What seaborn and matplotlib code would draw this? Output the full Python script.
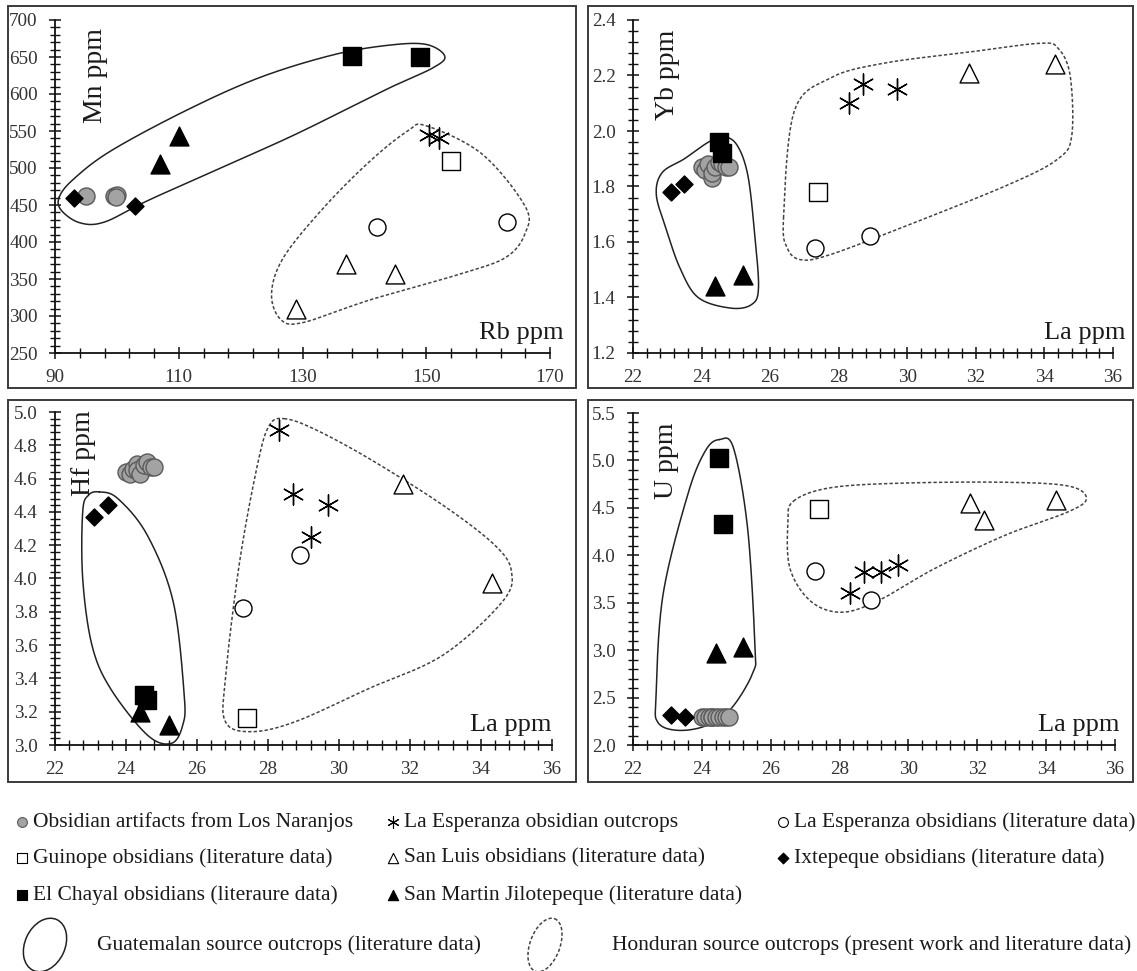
import numpy as np
import pandas as pd
import matplotlib
matplotlib.use("Agg")
import matplotlib.pyplot as plt
import seaborn as sns
from matplotlib.patches import Rectangle, Ellipse
from matplotlib.ticker import MultipleLocator, FuncFormatter

# ---------------- data ----------------
nan = np.nan
# Obsidian artifacts from Los Naranjos
NAR_RB = [95.0, 99.6, 100.0, 99.8]
NAR_MN = [462, 462, 463, 461]
NAR_LA = [24.0, 24.1, 24.2, 24.3, 24.3, 24.4, 24.5, 24.6, 24.7, 24.8]
NAR_YB = [1.87, 1.86, 1.88, 1.83, 1.85, 1.87, 1.89, 1.88, 1.87, 1.87]
NAR_HF = [4.64, 4.63, 4.66, 4.69, 4.65, 4.63, 4.68, 4.70, 4.67, 4.67]
NAR_U = [2.29, 2.29, 2.29, 2.29, 2.29, 2.29, 2.29, 2.29, 2.29, 2.29]
# La Esperanza obsidian outcrops
ESP_RB = [150.5, 152.0]
ESP_MN = [545, 540]
ESP_LA = [28.3, 28.7, 29.2, 29.7]
ESP_YB = [2.10, 2.17, nan, 2.15]
ESP_HF = [4.89, 4.51, 4.25, 4.44]
ESP_U = [3.60, 3.82, 3.82, 3.90]
# La Esperanza obsidians (literature)
LEL_RB = [142.0, 163.0]
LEL_MN = [420, 427]
LEL_LA = [27.3, 28.9]
LEL_YB = [1.58, 1.62]
LEL_HF = [3.82, 4.14]
LEL_U = [3.83, 3.53]
# Guinope obsidians
GUI_RB = [154.0]
GUI_MN = [510]
GUI_LA = [27.4]
GUI_YB = [1.78]
GUI_HF = [3.16]
GUI_U = [4.49]
# San Luis obsidians
SL_RB = [129.0, 137.0, 145.0]
SL_MN = [310, 370, 357]
SL_LA = [31.8, 32.2, 34.3]
SL_YB = [2.21, nan, 2.24]
SL_HF = [4.57, nan, 3.97]
SL_U = [4.55, 4.37, 4.58]
# Ixtepeque obsidians
IXT_RB = [93.0, 103.0]
IXT_MN = [459, 449]
IXT_LA = [23.1, 23.5]
IXT_YB = [1.78, 1.81]
IXT_HF = [4.37, 4.44]
IXT_U = [2.32, 2.30]
# El Chayal obsidians
CHA_RB = [138.0, 149.0]
CHA_MN = [652, 650]
CHA_LA = [24.5, 24.6]
CHA_YB = [1.96, 1.92]
CHA_HF = [3.30, 3.27]
CHA_U = [5.03, 4.33]
# San Martin Jilotepeque
SMJ_RB = [107.0, 110.0]
SMJ_MN = [505, 543]
SMJ_LA = [24.4, 25.2]
SMJ_YB = [1.44, 1.48]
SMJ_HF = [3.20, 3.12]
SMJ_U = [2.97, 3.03]

LEGEND_LABELS = [
    "Obsidian artifacts from Los Naranjos",
    "La Esperanza obsidian outcrops",
    "La Esperanza obsidians (literature data)",
    "Guinope obsidians (literature data)",
    "San Luis obsidians (literature data)",
    "Ixtepeque obsidians (literature data)",
    "El Chayal obsidians (literaure data)",
    "San Martin Jilotepeque (literature data)",
]
ENV_LABELS = ["Guatemalan source outcrops (literature data)",
              "Honduran source outcrops (present work and literature data)"]

# source-field outlines (control points of the hand-drawn envelopes)
ENV1_SOLID_X = [90.7, 93, 99, 111, 123, 135, 144, 150, 153, 151, 144, 129, 117, 105, 98, 94, 91]
ENV1_SOLID_Y = [461, 485, 523, 577, 622, 653, 666, 667, 651, 635, 608, 546, 501, 456, 427, 426, 443]
ENV1_DASH_X = [150, 159, 166, 166, 163, 156, 141, 130, 126.4, 125, 127, 133.6, 141, 147]
ENV1_DASH_Y = [557, 519, 448, 412, 380, 358, 322, 291, 296, 331, 380, 448, 510, 550]
ENV2_SOLID_X = [24.62, 25.03, 25.35, 25.55, 25.66, 25.45, 24.83, 23.9, 23.37, 22.96, 22.68, 22.85, 23.5, 24.2]
ENV2_SOLID_Y = [1.98, 1.95, 1.84, 1.626, 1.434, 1.374, 1.362, 1.40, 1.506, 1.65, 1.77, 1.85, 1.90, 1.96]
ENV2_DASH_X = [26.39, 26.7, 27.74, 29.3, 31.9, 33.87, 34.4, 34.75, 34.8, 34.4, 32.94, 29.8, 27.74, 26.9, 26.5]
ENV2_DASH_Y = [1.686, 2.07, 2.19, 2.244, 2.286, 2.316, 2.298, 2.20, 1.986, 1.90, 1.806, 1.65, 1.554, 1.536, 1.578]
ENV3_SOLID_X = [23.25, 23.77, 24.6, 25.33, 25.64, 25.6, 25.28, 24.6, 23.56, 23.04, 22.78, 22.78, 22.94]
ENV3_SOLID_Y = [4.52, 4.48, 4.26, 3.86, 3.30, 3.12, 3.01, 3.06, 3.34, 3.60, 4.0, 4.40, 4.50]
ENV3_DASH_X = [28.45, 29.28, 30.85, 32.93, 34.39, 34.86, 34.6, 32.93, 30.85, 28.77, 27.52, 26.8, 26.8, 27.2, 27.72, 28.04]
ENV3_DASH_Y = [4.96, 4.90, 4.72, 4.44, 4.20, 4.04, 3.86, 3.54, 3.34, 3.14, 3.08, 3.14, 3.40, 4.10, 4.70, 4.92]
ENV4_SOLID_X = [24.51, 24.92, 25.33, 25.54, 25.48, 24.82, 24.1, 23.28, 22.72, 22.67, 22.87, 23.59, 24.1]
ENV4_SOLID_Y = [5.22, 5.13, 4.28, 3.05, 2.76, 2.37, 2.20, 2.155, 2.24, 2.52, 3.58, 4.64, 5.10]
ENV4_DASH_X = [26.66, 27.7, 29.74, 32.8, 34.65, 35.17, 34.65, 32.8, 30.76, 29.22, 28.1, 27.18, 26.56, 26.5]
ENV4_DASH_Y = [4.57, 4.71, 4.76, 4.77, 4.73, 4.60, 4.46, 4.21, 3.86, 3.54, 3.40, 3.51, 3.86, 4.35]

# ---------------- styling ----------------
sns.set_theme(style="white")
plt.rcParams["font.family"] = ["Liberation Serif", "DejaVu Serif"]

W, H = 1137, 971
fig = plt.figure(figsize=(W / 100, H / 100), dpi=100)
fig.patch.set_facecolor("white")

# background layer in pixel coordinates (panel frames + legend)
lax = fig.add_axes([0, 0, 1, 1], zorder=-5)
lax.set_xlim(0, W)
lax.set_ylim(H, 0)
lax.axis("off")

STYLES = {
    "NAR": dict(marker="o", color="#a3a3a3", edgecolor="#5a5a5a", s=150, linewidth=1.0),
    "ESP": dict(marker=(6, 2, 0), color="black", s=230, linewidth=1.0),
    "LEL": dict(marker="o", color="white", edgecolor="black", s=150, linewidth=1.0),
    "GUI": dict(marker="s", color="white", edgecolor="black", s=155, linewidth=1.0),
    "SL": dict(marker="^", color="white", edgecolor="black", s=185, linewidth=1.0),
    "IXT": dict(marker="D", color="black", edgecolor="black", s=75, linewidth=1.0),
    "CHA": dict(marker="s", color="black", edgecolor="black", s=155, linewidth=1.0),
    "SMJ": dict(marker="^", color="black", edgecolor="black", s=185, linewidth=1.0),
}
ORDER = ["NAR", "IXT", "SMJ", "CHA", "ESP", "GUI", "LEL", "SL"]


def closed_spline(xs, ys, n=40):
    pts = np.column_stack([xs, ys]).astype(float)
    N = len(pts)
    out = []
    t = np.linspace(0, 1, n, endpoint=False)[:, None]
    for i in range(N):
        p0, p1, p2, p3 = pts[i - 1], pts[i], pts[(i + 1) % N], pts[(i + 2) % N]
        seg = 0.5 * ((2 * p1) + (-p0 + p2) * t + (2 * p0 - 5 * p1 + 4 * p2 - p3) * t ** 2
                     + (-p0 + 3 * p1 - 3 * p2 + p3) * t ** 3)
        out.append(seg)
    out = np.vstack(out + [out[0][:1]])
    return out[:, 0], out[:, 1]


def rect(l, t, r, b):
    return [l / W, 1 - b / H, (r - l) / W, (b - t) / H]


panels = [
    dict(pos=rect(55, 20, 550, 353), xlim=(90, 170), ylim=(250, 700),
         xmaj=(20, 10), xmin=(4, 2), ymaj=50, ymin=10,
         xlab="Rb ppm", ylab="Mn ppm", fmt="{:.0f}",
         data={"NAR": (NAR_RB, NAR_MN), "ESP": (ESP_RB, ESP_MN), "LEL": (LEL_RB, LEL_MN),
               "GUI": (GUI_RB, GUI_MN), "SL": (SL_RB, SL_MN), "IXT": (IXT_RB, IXT_MN),
               "CHA": (CHA_RB, CHA_MN), "SMJ": (SMJ_RB, SMJ_MN)},
         env=((ENV1_SOLID_X, ENV1_SOLID_Y), (ENV1_DASH_X, ENV1_DASH_Y)),
         xlx=1.028, ylx=0.081, yly=0.976),
    dict(pos=rect(633, 20, 1113, 353), xlim=(22, 36), ylim=(1.2, 2.4),
         xmaj=(2, 0), xmin=(0.4, 0), ymaj=0.2, ymin=0.04,
         xlab="La ppm", ylab="Yb ppm", fmt="{:.1f}",
         data={"NAR": (NAR_LA, NAR_YB), "ESP": (ESP_LA, ESP_YB), "LEL": (LEL_LA, LEL_YB),
               "GUI": (GUI_LA, GUI_YB), "SL": (SL_LA, SL_YB), "IXT": (IXT_LA, IXT_YB),
               "CHA": (CHA_LA, CHA_YB), "SMJ": (SMJ_LA, SMJ_YB)},
         env=((ENV2_SOLID_X, ENV2_SOLID_Y), (ENV2_DASH_X, ENV2_DASH_Y)),
         xlx=1.025, ylx=0.072, yly=0.97),
    dict(pos=rect(55, 412, 552, 745), xlim=(22, 36), ylim=(3.0, 5.0),
         xmaj=(2, 0), xmin=(0.4, 0), ymaj=0.2, ymin=0.04,
         xlab="La ppm", ylab="Hf ppm", fmt="{:.1f}",
         data={"NAR": (NAR_LA, NAR_HF), "ESP": (ESP_LA, ESP_HF), "LEL": (LEL_LA, LEL_HF),
               "GUI": (GUI_LA, GUI_HF), "SL": (SL_LA, SL_HF), "IXT": (IXT_LA, IXT_HF),
               "CHA": (CHA_LA, CHA_HF), "SMJ": (SMJ_LA, SMJ_HF)},
         env=((ENV3_SOLID_X, ENV3_SOLID_Y), (ENV3_DASH_X, ENV3_DASH_Y)),
         xlx=1.0, ylx=0.058, yly=1.005),
    dict(pos=rect(633, 413, 1115, 745), xlim=(22, 36), ylim=(2.0, 5.5),
         xmaj=(2, 0), xmin=(0.4, 0), ymaj=0.5, ymin=0.1,
         xlab="La ppm", ylab="U ppm", fmt="{:.1f}",
         data={"NAR": (NAR_LA, NAR_U), "ESP": (ESP_LA, ESP_U), "LEL": (LEL_LA, LEL_U),
               "GUI": (GUI_LA, GUI_U), "SL": (SL_LA, SL_U), "IXT": (IXT_LA, IXT_U),
               "CHA": (CHA_LA, CHA_U), "SMJ": (SMJ_LA, SMJ_U)},
         env=((ENV4_SOLID_X, ENV4_SOLID_Y), (ENV4_DASH_X, ENV4_DASH_Y)),
         xlx=1.01, ylx=0.07, yly=0.97),
]

TXT = "#1a1a1a"
for p in panels:
    ax = fig.add_axes(p["pos"])
    ax.set_facecolor("none")
    (sx, sy), (dx, dy) = p["env"]
    cx, cy = closed_spline(sx, sy)
    ax.plot(cx, cy, color="#222222", lw=1.1, zorder=1)
    cx, cy = closed_spline(dx, dy)
    ax.plot(cx, cy, color="#444444", lw=1.1, ls=(0, (2.2, 1.4)), zorder=1)
    for g in ORDER:
        xs, ys = p["data"][g]
        df = pd.DataFrame({"x": xs, "y": ys}).dropna()
        sns.scatterplot(data=df, x="x", y="y", ax=ax, legend=False, zorder=3, **STYLES[g])
    ax.set_xlim(*p["xlim"])
    ax.set_ylim(*p["ylim"])
    ax.xaxis.set_major_locator(MultipleLocator(p["xmaj"][0], offset=p["xmaj"][1]))
    ax.xaxis.set_minor_locator(MultipleLocator(p["xmin"][0], offset=p["xmin"][1]))
    ax.yaxis.set_major_locator(MultipleLocator(p["ymaj"]))
    ax.yaxis.set_minor_locator(MultipleLocator(p["ymin"]))
    fmt = p["fmt"]
    ax.yaxis.set_major_formatter(FuncFormatter(lambda v, pos, f=fmt: f.format(v)))
    ax.xaxis.set_major_formatter(FuncFormatter(lambda v, pos: "{:.0f}".format(v)))
    for side in ("top", "right"):
        ax.spines[side].set_visible(False)
    for side in ("left", "bottom"):
        ax.spines[side].set_color("#111111")
        ax.spines[side].set_linewidth(1.3)
    ax.tick_params(which="major", direction="inout", length=9, width=1.1, color="#111111",
                   labelsize=13.8, labelcolor="#333333", left=True, bottom=True)
    ax.tick_params(which="minor", direction="inout", length=7, width=1.0, color="#111111",
                   left=True, bottom=True)
    ax.tick_params(axis="y", which="major", pad=8)
    ax.tick_params(axis="x", which="major", pad=7)
    ax.set_xlabel("")
    ax.set_ylabel("")
    ax.text(p["xlx"], 0.06, p["xlab"], transform=ax.transAxes, ha="right", va="center",
            fontsize=19, color=TXT)
    ax.text(p["ylx"], p["yly"], p["ylab"], transform=ax.transAxes, ha="center", va="top",
            rotation=90, fontsize=20, color=TXT)

# panel frames
for (l, t, r, b) in [(8, 6, 576, 388), (588, 6, 1133, 388), (8, 400, 576, 782), (588, 400, 1133, 782)]:
    lax.add_patch(Rectangle((l, t), r - l, b - t, fill=False, edgecolor="#3a3a3a", lw=1.4))

# legend (symbols + labels)
COLX = [22, 393, 783]
ROWY = [822, 858, 895]
LEG_GROUPS = ["NAR", "ESP", "LEL", "GUI", "SL", "IXT", "CHA", "SMJ"]
for i, (g, lab) in enumerate(zip(LEG_GROUPS, LEGEND_LABELS)):
    c, r = i % 3, i // 3
    st = dict(STYLES[g])
    size = {"ESP": 70, "IXT": 30, "SL": 55, "SMJ": 55}.get(g, 50)
    st["s"] = size
    st["linewidth"] = 0.8
    lax.scatter([COLX[c]], [ROWY[r]], zorder=3, **{k: v for k, v in st.items() if k != "color"},
                c=[st["color"]])
    lax.text(COLX[c] + 11, ROWY[r], lab, ha="left", va="center", fontsize=15.5, color=TXT)

lax.add_patch(Ellipse((45, 945), 40, 56, angle=25, fill=False, edgecolor="#222222", lw=1.1))
lax.text(97, 945, ENV_LABELS[0], ha="left", va="center", fontsize=15.5, color=TXT)
lax.add_patch(Ellipse((545, 945), 30, 56, angle=20, fill=False, edgecolor="#444444", lw=1.1,
                      ls=(0, (2.2, 1.4))))
lax.text(612, 945, ENV_LABELS[1], ha="left", va="center", fontsize=15.5, color=TXT)

fig.savefig("out.png", dpi=100, facecolor="white")
